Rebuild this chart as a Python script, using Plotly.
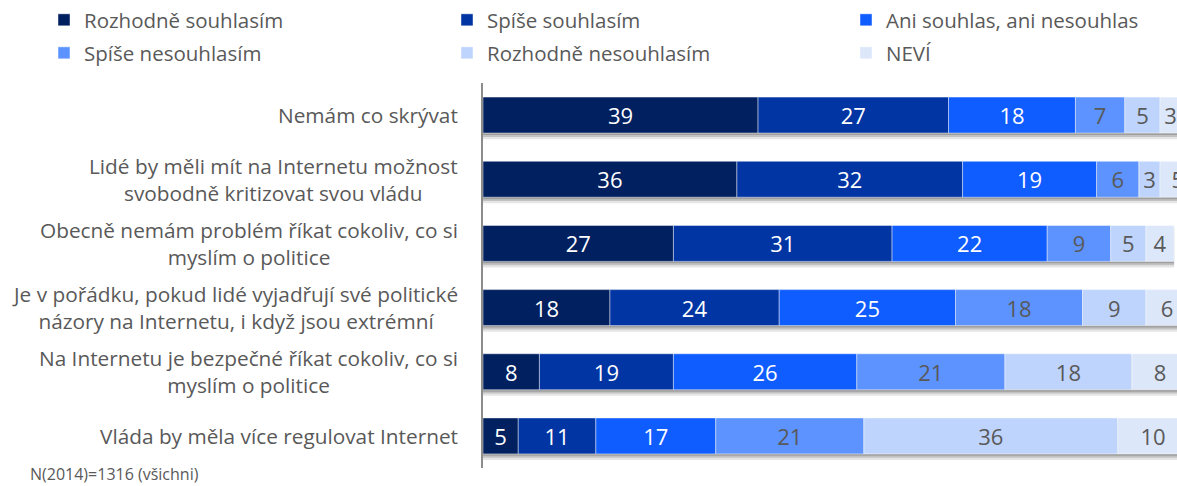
import plotly.graph_objects as go

# Survey statements (top to bottom)
statements = [
    "Nemám co skrývat",
    "Lidé by měli mít na Internetu možnost<br>svobodně kritizovat svou vládu",
    "Obecně nemám problém říkat cokoliv, co si<br>myslím o politice",
    "Je v pořádku, pokud lidé vyjadřují své politické<br>názory na Internetu, i když jsou extrémní",
    "Na Internetu je bezpečné říkat cokoliv, co si<br>myslím o politice",
    "Vláda by měla více regulovat Internet",
]

answers = [
    "Rozhodně souhlasím",
    "Spíše souhlasím",
    "Ani souhlas, ani nesouhlas",
    "Spíše nesouhlasím",
    "Rozhodně nesouhlasím",
    "NEVÍ",
]

# Share of respondents (%) per answer, in statement order
rozhodne_souhlasim = [39, 36, 27, 18, 8, 5]
spise_souhlasim = [27, 32, 31, 24, 19, 11]
ani_ani = [18, 19, 22, 25, 26, 17]
spise_nesouhlasim = [7, 6, 9, 18, 21, 21]
rozhodne_nesouhlasim = [5, 3, 5, 9, 18, 36]
nevi = [3, 5, 4, 6, 8, 10]

series = [rozhodne_souhlasim, spise_souhlasim, ani_ani,
          spise_nesouhlasim, rozhodne_nesouhlasim, nevi]
colors = ["#002060", "#0035A3", "#0F5CFF", "#5C93FF", "#BED4FD", "#DCE7FA"]
text_colors = ["white", "white", "white", "#595959", "#595959", "#595959"]

FONT = "Open Sans"
GRAY = "#595959"
BAR_W = 0.56

# Plot-area geometry (pixels) used to place legends in paper units
PLOT_L, PLOT_W, PLOT_T, PLOT_H = 483, 694, 82, 386
legend_text_x = [86, 489, 888]
legend_row_y = [19, 53]

totals = [sum(v) for v in zip(*series)]

fig = go.Figure()

# Soft drop shadow under each stacked bar
for shift, alpha in [(0.03, 0.18), (0.06, 0.15), (0.095, 0.10)]:
    fig.add_trace(go.Bar(
        y=statements, x=totals, base=0, orientation="h",
        width=BAR_W, offset=-BAR_W / 2 + shift,
        marker=dict(color=f"rgba(0,0,0,{alpha})", line=dict(width=0)),
        showlegend=False, hoverinfo="skip",
    ))

# Stacked segments
left = [0] * len(statements)
for i, (name, vals, col, tcol) in enumerate(zip(answers, series, colors, text_colors)):
    fig.add_trace(go.Bar(
        y=statements, x=vals, base=left, name=name, orientation="h",
        width=BAR_W, offset=-BAR_W / 2,
        marker=dict(color=col, line=dict(color="rgba(255,255,255,0.45)", width=1)),
        text=vals, textposition="inside", insidetextanchor="middle",
        textangle=0, constraintext="none",
        textfont=dict(family=FONT, size=22, color=tcol),
        cliponaxis=True, hoverinfo="skip",
        legend="legend" if i == 0 else f"legend{i + 1}",
    ))
    left = [a + b for a, b in zip(left, vals)]

# Statement labels: centred lines in a right-aligned block
for s in statements:
    fig.add_annotation(
        x=0, y=s, xref="paper", yref="y", text=s, showarrow=False,
        xanchor="right", yanchor="middle", align="center", xshift=-23,
        font=dict(family=FONT, size=20.8, color=GRAY),
    )

fig.add_annotation(
    x=(28 - PLOT_L) / PLOT_W, y=-(474 - PLOT_T - PLOT_H) / PLOT_H,
    xref="paper", yref="paper", text="N(2014)=1316 (všichni)",
    showarrow=False, xanchor="left", yanchor="middle",
    font=dict(family=FONT, size=16, color=GRAY),
)

# One legend box per answer, laid out in a 3 x 2 grid
legends = {}
for i in range(len(answers)):
    col, row = i % 3, i // 3
    key = "legend" if i == 0 else f"legend{i + 1}"
    legends[key] = dict(
        orientation="h",
        x=(legend_text_x[col] - 42 - PLOT_L) / PLOT_W,
        y=1 + (PLOT_T - legend_row_y[row]) / PLOT_H,
        xanchor="left", yanchor="middle", itemwidth=30,
        font=dict(family=FONT, size=20.5, color=GRAY),
        bgcolor="rgba(0,0,0,0)",
    )

fig.update_layout(
    width=1177, height=486,
    margin=dict(l=PLOT_L, r=0, t=PLOT_T, b=486 - PLOT_T - PLOT_H),
    barmode="overlay",
    plot_bgcolor="white", paper_bgcolor="white",
    xaxis=dict(range=[0, 98.4], showgrid=False, zeroline=False,
               showticklabels=False, showline=False, fixedrange=True),
    yaxis=dict(autorange="reversed", showticklabels=False, ticks="",
               showgrid=False, showline=True, linecolor="#8C8C8C", linewidth=2,
               zeroline=False),
    **legends,
)

fig.write_html("out.html")
